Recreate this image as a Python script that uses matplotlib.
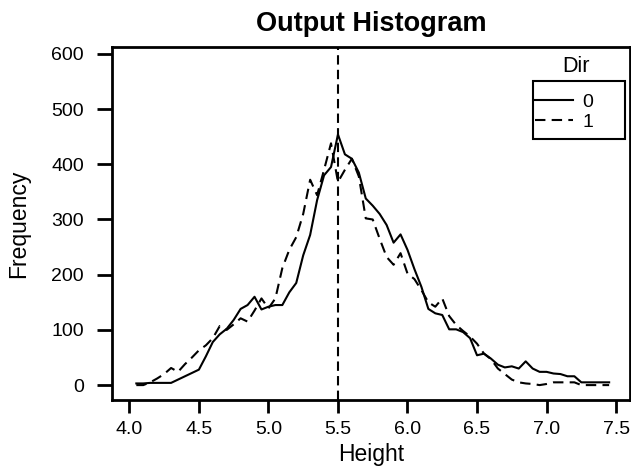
import numpy as np
import matplotlib
matplotlib.use("Agg")
import matplotlib.pyplot as plt
from matplotlib.patches import Rectangle

# bin centres of the frequency polygon
heights = [round(4.05 + 0.05 * i, 2) for i in range(69)]

# Dir = 0 (solid)
freq_dir0 = [3, 3, 4, 4, 4, 4, 10, 16, 22, 28,
             52, 78, 92, 102, 118, 138, 145, 160, 137, 142,
             145, 145, 168, 185, 235, 272, 335, 380, 395, 454,
             418, 410, 385, 338, 325, 310, 290, 258, 273, 245,
             210, 178, 138, 130, 127, 101, 101, 96, 85, 54,
             57, 48, 37, 32, 34, 30, 43, 30, 24, 24,
             21, 20, 16, 16, 5, 5, 5, 5, 5]

# Dir = 1 (dashed)
freq_dir1 = [0, 0, 5, 12, 20, 31, 24, 38, 50, 63,
             72, 85, 107, 100, 110, 121, 115, 135, 157, 139,
             157, 212, 245, 268, 310, 372, 344, 390, 438, 368,
             390, 410, 378, 302, 300, 265, 232, 218, 239, 202,
             192, 172, 150, 142, 157, 125, 109, 98, 88, 75,
             57, 47, 30, 20, 10, 5, 3, 2, 0, 2,
             5, 5, 5, 5, 0, 0, 0, 0, 0]

ref_line = 5.5
x_ticks = [4.0, 4.5, 5.0, 5.5, 6.0, 6.5, 7.0, 7.5]
y_ticks = [0, 100, 200, 300, 400, 500, 600]

plt.rcParams['font.family'] = ['Liberation Sans', 'DejaVu Sans']

W, H = 631, 470
fig = plt.figure(figsize=(W / 100, H / 100), dpi=100)
ax = fig.add_axes([111.7 / W, 1 - 400 / H, (630 - 111.7) / W, (400 - 46.7) / H])

dash = (0, (5, 3))
ax.plot(heights, freq_dir0, color='black', lw=1.5, label='0')
ax.plot(heights, freq_dir1, color='black', lw=1.5, linestyle=dash, label='1')
ax.axvline(ref_line, color='black', lw=1.5, linestyle=(0, (4.5, 2.5)))

ax.set_xlim(3.873, 7.60)
ax.set_ylim(-27, 613)
ax.set_xticks(x_ticks)
ax.set_xticklabels(['%.1f' % t for t in x_ticks])
ax.set_yticks(y_ticks)

for s in ax.spines.values():
    s.set_linewidth(2)
ax.tick_params(axis='x', direction='out', length=9, width=2, labelsize=14, pad=6)
ax.tick_params(axis='y', direction='out', length=11, width=2, labelsize=14, pad=9)

ax.set_xlabel('Height', fontsize=16.5, labelpad=4)
ax.set_ylabel('Frequency', fontsize=16.5, labelpad=15)
ax.set_title('Output Histogram', fontsize=19.5, fontweight='bold', pad=11)

# legend: title sits above the frame
leg = ax.legend(loc='center left', bbox_to_anchor=(535 / W, 1 - 112 / H),
                bbox_transform=fig.transFigure, fontsize=14, frameon=False,
                handlelength=1.95, handletextpad=0.5, labelspacing=0.15,
                borderpad=0.0, borderaxespad=0.0)
fig.patches.append(Rectangle((532.7 / W, 1 - 139.3 / H), (625 - 532.7) / W, (139.3 - 80.7) / H,
                             transform=fig.transFigure, fill=False, edgecolor='black', lw=1.5))
fig.text(576.5 / W, 1 - 66 / H, 'Dir', fontsize=15.5, ha='center', va='center')

fig.savefig('out.png', dpi=100)
